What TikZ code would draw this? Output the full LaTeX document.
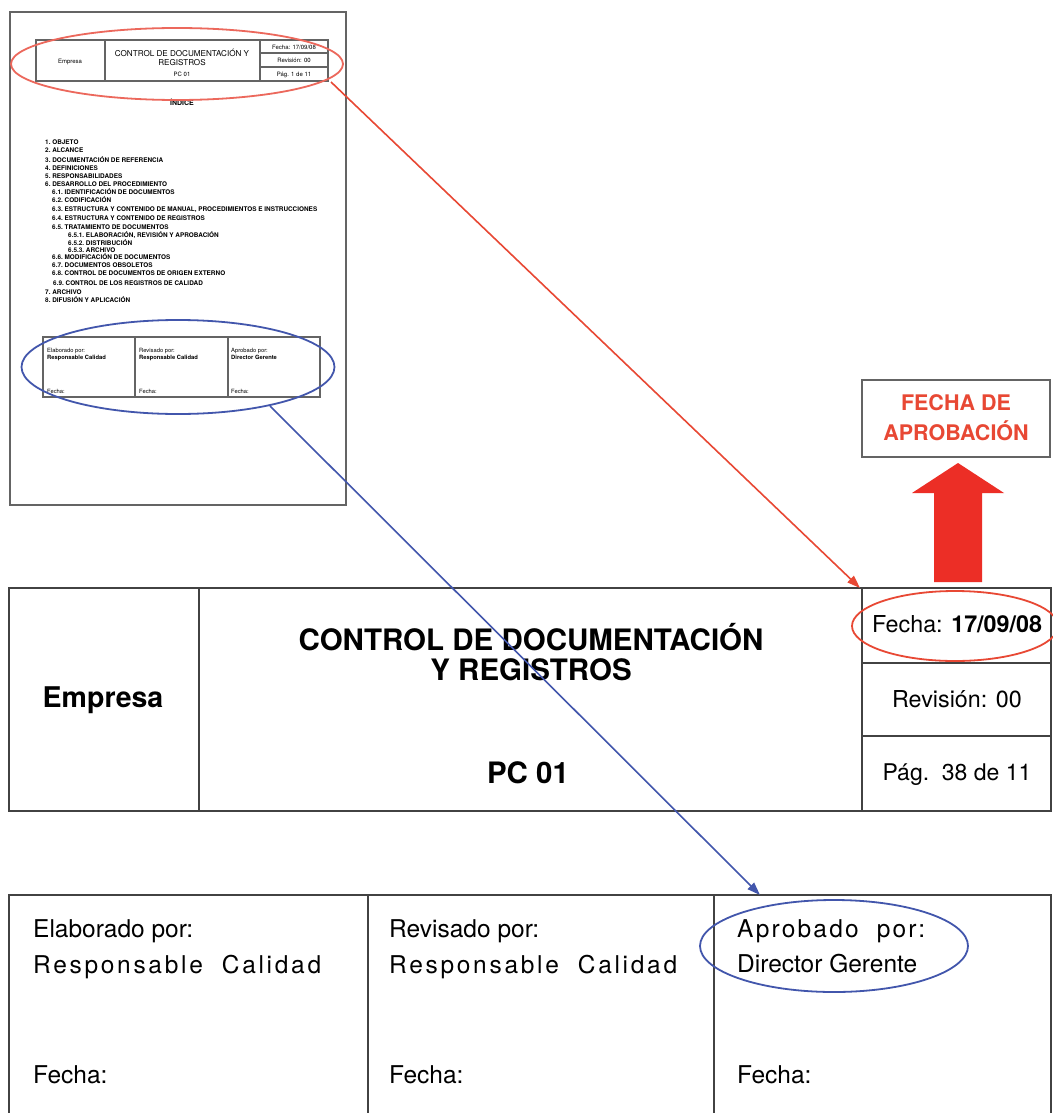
\documentclass[tikz,border=0pt]{standalone}
\usepackage{fontspec}
\setmainfont{TeX Gyre Heros}
\usetikzlibrary{shapes.geometric,arrows.meta}

\definecolor{rulegray}{RGB}{66,66,66}
\definecolor{pagegray}{RGB}{100,100,100}
\definecolor{ringred}{RGB}{236,104,92}
\definecolor{linkred}{RGB}{232,72,52}
\definecolor{bigred}{RGB}{236,46,38}
\definecolor{ringblue}{RGB}{66,86,172}

\newcommand{\fs}[1]{\fontsize{#1}{#1}\selectfont}

\tikzset{
  tablerule/.style={draw=rulegray, line width=1.9pt},
  thumbrule/.style={draw=pagegray, line width=1.1pt},
  lbl/.style={inner sep=0pt, anchor=base},
  lblw/.style={inner sep=0pt, anchor=base west},
  ring/.style={ellipse, draw, line width=1.8pt, inner sep=0pt},
  link/.style={line width=1.6pt, -{Triangle[length=13pt,width=9pt]}},
  toc/.style={inner sep=0pt, anchor=base west, font=\fs{6.4}\bfseries},
  mini/.style={inner sep=0pt, anchor=base west, font=\fs{5.8}},
}

\begin{document}
\begin{tikzpicture}[x=1pt,y=-1pt]
\useasboundingbox (0,0) rectangle (1052,1113);
\fill[white] (0,0) rectangle (1052,1113);

% ---------- miniature page ----------
\draw[draw=pagegray, line width=2.4pt] (10,12) rectangle (346,505);

% miniature header
\draw[thumbrule] (36,40) rectangle (328,81);
\draw[thumbrule] (105,40) -- (105,81);
\draw[thumbrule] (260,40) -- (260,81);
\draw[thumbrule] (260,53) -- (328,53);
\draw[thumbrule] (260,67) -- (328,67);
\node[lbl, font=\fs{6}] (tEmp) at (70,64) {Empresa};
\node[lbl, font=\fs{8.1}] (tTit1) at (182,57) {CONTROL DE DOCUMENTACIÓN Y};
\node[lbl, font=\fs{8.1}] (tTit2) at (182,66) {REGISTROS};
\node[lbl, font=\fs{6}] (tCode) at (182,77) {PC 01};
\node[lbl, font=\fs{6}] (tFecha) at (294,50) {Fecha: 17/09/08};
\node[lbl, font=\fs{6}] (tRev) at (294,63) {Revisión: 00};
\node[lbl, font=\fs{6}] (tPag) at (294,77) {Pág. 1 de 11};

\node[lbl, font=\fs{7}\bfseries] (tIndice) at (182,106) {ÍNDICE};

% miniature table of contents
\node[toc] (c1) at (45,145) {1.\ OBJETO};
\node[toc] (c2) at (45,153) {2.\ ALCANCE};
\node[toc] (c3) at (45,162) {3.\ DOCUMENTACIÓN DE REFERENCIA};
\node[toc] (c4) at (45,170) {4.\ DEFINICIONES};
\node[toc] (c5) at (45,178) {5.\ RESPONSABILIDADES};
\node[toc] (c6) at (45,186) {6.\ DESARROLLO DEL PROCEDIMIENTO};
\node[toc] (c61) at (52,194) {6.1.\ IDENTIFICACIÓN DE DOCUMENTOS};
\node[toc] (c62) at (52,202) {6.2.\ CODIFICACIÓN};
\node[toc] (c63) at (52,211) {6.3.\ ESTRUCTURA Y CONTENIDO DE MANUAL, PROCEDIMIENTOS E INSTRUCCIONES};
\node[toc] (c64) at (52,220) {6.4.\ ESTRUCTURA Y CONTENIDO DE REGISTROS};
\node[toc] (c65) at (52,229) {6.5.\ TRATAMIENTO DE DOCUMENTOS};
\node[toc] (c651) at (68,237) {6.5.1.\ ELABORACIÓN, REVISIÓN Y APROBACIÓN};
\node[toc] (c652) at (68,245) {6.5.2.\ DISTRIBUCIÓN};
\node[toc] (c653) at (68,252) {6.5.3.\ ARCHIVO};
\node[toc] (c66) at (52,259) {6.6.\ MODIFICACIÓN DE DOCUMENTOS};
\node[toc] (c67) at (52,267) {6.7.\ DOCUMENTOS OBSOLETOS};
\node[toc] (c68) at (52,275) {6.8.\ CONTROL DE DOCUMENTOS DE ORIGEN EXTERNO};
\node[toc] (c69) at (53,285) {6.9.\ CONTROL DE LOS REGISTROS DE CALIDAD};
\node[toc] (c7) at (45,294) {7.\ ARCHIVO};
\node[toc] (c8) at (45,302) {8.\ DIFUSIÓN Y APLICACIÓN};

% miniature signature table
\draw[thumbrule] (43,337) rectangle (320,397);
\draw[thumbrule] (135,337) -- (135,397);
\draw[thumbrule] (228,337) -- (228,397);
\node[mini] (s1a) at (47,352) {Elaborado por:};
\node[mini, font=\fs{5.8}\bfseries] (s1b) at (47,359) {Responsable Calidad};
\node[mini] (s1c) at (47,393) {Fecha:};
\node[mini] (s2a) at (139,352) {Revisado por:};
\node[mini, font=\fs{5.8}\bfseries] (s2b) at (139,359) {Responsable Calidad};
\node[mini] (s2c) at (139,393) {Fecha:};
\node[mini] (s3a) at (231,352) {Aprobado por:};
\node[mini, font=\fs{5.8}\bfseries] (s3b) at (231,359) {Director Gerente};
\node[mini] (s3c) at (231,393) {Fecha:};

% highlight rings on the miniature
\node[ring, draw=ringred, minimum width=332pt, minimum height=72pt] (hdrRing) at (177,64) {};
\node[ring, draw=ringblue, minimum width=313pt, minimum height=94pt] (sigRing) at (178,367) {};

% ---------- enlarged header ----------
\draw[tablerule] (9,588) rectangle (1051,811);
\draw[tablerule] (199,588) -- (199,811);
\draw[tablerule] (862,588) -- (862,811);
\draw[tablerule] (862,663) -- (1051,663);
\draw[tablerule] (862,736) -- (1051,736);

\node[lbl, font=\fs{28.5}\bfseries] (hEmp) at (103,707) {Empresa};
\node[lbl, font=\fs{29.5}\bfseries] (hTit1) at (531,650) {CONTROL DE DOCUMENTACIÓN};
\node[lbl, font=\fs{29.5}\bfseries] (hTit2) at (531,680) {Y REGISTROS};
\node[lbl, font=\fs{29.5}\bfseries] (hCode) at (528,783) {PC 01};
\node[lbl, font=\fs{23.3}] (hFecha) at (957,632) {Fecha: \textbf{17/09/08}};
\node[lbl, font=\fs{23.3}] (hRev) at (957,707) {Revisión: 00};
\node[lbl, font=\fs{23}] (hPag) at (957,780) {Pág.\ \ 38 de 11};

\node[ring, draw=linkred, minimum width=206pt, minimum height=70pt] (fechaRing) at (955,626) {};

% ---------- approval-date callout ----------
\node[draw=pagegray, line width=1.8pt, minimum width=188pt, minimum height=77pt, inner sep=0pt]
  (callout) at (956,418.5) {};
\node[lbl, font=\fs{21.5}\bfseries, text=linkred] (co1) at (956,410) {FECHA DE};
\node[lbl, font=\fs{21.5}\bfseries, text=linkred] (co2) at (956,440) {APROBACIÓN};
\fill[bigred] (934,582) -- (934,493) -- (912,493) -- (958,463) -- (1004,493)
  -- (982,493) -- (982,582) -- cycle;

% ---------- enlarged signature block ----------
\draw[tablerule] (9,1120) -- (9,895) -- (1051,895) -- (1051,1120);
\draw[tablerule] (368,895) -- (368,1120);
\draw[tablerule] (714,895) -- (714,1120);

\node[lblw, font=\fs{24.5}] (b1a) at (33,937) {Elaborado por:};
\node[lblw, font=\fs{24.5}\addfontfeature{LetterSpace=11}] (b1b) at (33,973) {Responsable\ \ Calidad};
\node[lblw, font=\fs{24.5}] (b1c) at (33,1083) {Fecha:};
\node[lblw, font=\fs{24.5}] (b2a) at (389,937) {Revisado por:};
\node[lblw, font=\fs{24.5}\addfontfeature{LetterSpace=11}] (b2b) at (389,973) {Responsable\ \ Calidad};
\node[lblw, font=\fs{24.5}] (b2c) at (389,1083) {Fecha:};
\node[lblw, font=\fs{24.5}\addfontfeature{LetterSpace=9}] (b3a) at (737,937) {Aprobado\ \ por:};
\node[lblw, font=\fs{24.5}] (b3b) at (737,972) {Director Gerente};
\node[lblw, font=\fs{24.5}] (b3c) at (737,1083) {Fecha:};

\node[ring, draw=ringblue, minimum width=268pt, minimum height=92pt] (aprobRing) at (834,946) {};

% ---------- connectors ----------
\coordinate (hdrOut) at (331,82);
\coordinate (fechaIn) at (860,588);
\coordinate (sigOut) at (270,406);
\coordinate (aprobIn) at (760,895);
\draw[link, draw=linkred, fill=linkred] (hdrOut) -- (fechaIn);
\draw[link, draw=ringblue, fill=ringblue] (sigOut) -- (aprobIn);
\end{tikzpicture}
\end{document}
